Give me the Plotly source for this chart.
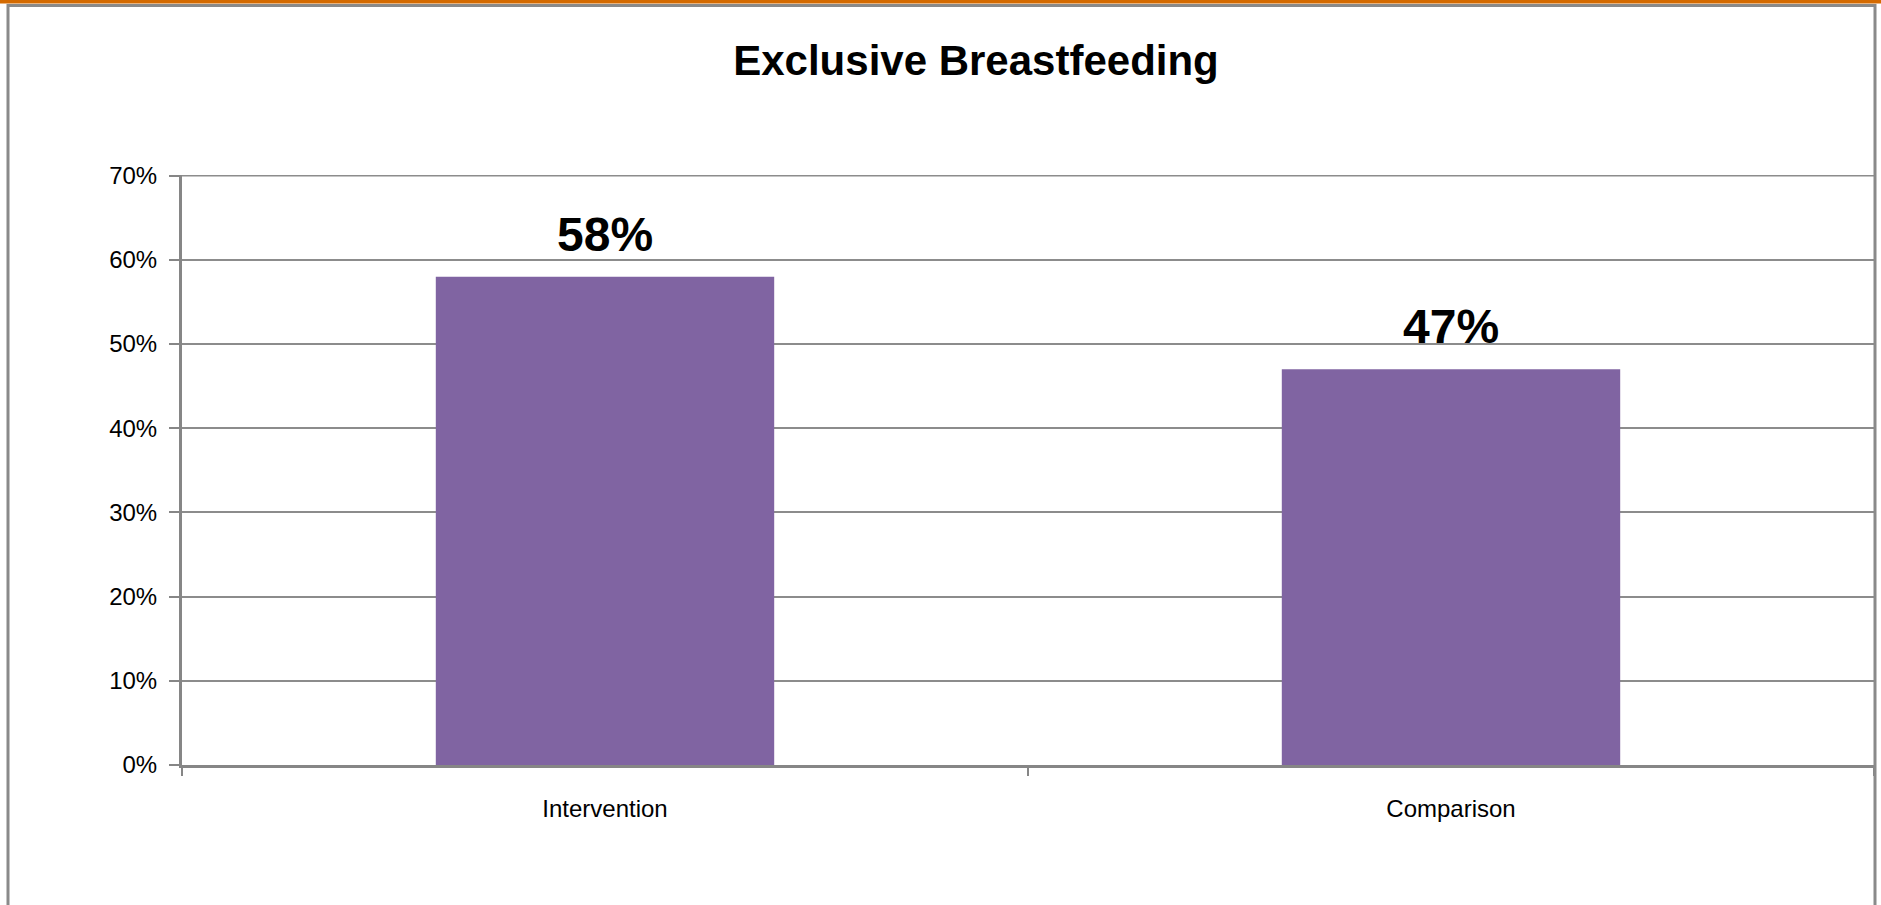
import plotly.graph_objects as go

categories = ["Intervention", "Comparison"]
values = [0.58, 0.47]
value_labels = ["58%", "47%"]
y_ticks = [0, 0.1, 0.2, 0.3, 0.4, 0.5, 0.6, 0.7]
title = "Exclusive Breastfeeding"

W, H = 1881, 905
L, R, T, B = 182, 7, 175, 140  # plot area margins in px
pw, ph = W - L - R, H - T - B


def px_x(x):
    return (x - L) / pw


def px_y(y):
    return (H - B - y) / ph


fig = go.Figure()
fig.add_trace(go.Bar(x=categories, y=values, marker=dict(color="#8064A2", line=dict(width=0)),
                     hoverinfo="skip"))

annotations = []
for c, v, t in zip(categories, values, value_labels):
    annotations.append(dict(x=c, y=v, text=t, showarrow=False, yanchor="bottom", yshift=14,
                            font=dict(family="Liberation Sans", size=48, color="black", weight="bold")))

fig.update_layout(
    width=W, height=H,
    margin=dict(l=L, r=R, t=T, b=B, autoexpand=False),
    paper_bgcolor="white", plot_bgcolor="white",
    showlegend=False,
    bargap=0.6,
    title=dict(text="<b>" + title + "</b>", x=976 / W, xanchor="center", y=1 - 60 / H, yanchor="middle",
               font=dict(family="Liberation Sans", size=42, color="black")),
    xaxis=dict(showline=True, linecolor="#868686", linewidth=3, ticks="outside", tickson="boundaries",
               ticklen=8, tickwidth=2, tickcolor="#868686", showgrid=False,
               tickfont=dict(family="Liberation Sans", size=24, color="black"),
               ticklabelstandoff=20),
    yaxis=dict(range=[0, 0.7008], tickvals=y_ticks, tickformat=".0%",
               showline=True, linecolor="#868686",
               linewidth=3, ticks="outside", ticklen=10, tickwidth=2, tickcolor="#868686",
               showgrid=True, gridcolor="#8c8c8c", gridwidth=1.5, zeroline=False,
               tickfont=dict(family="Liberation Sans", size=24, color="black"),
               ticklabelstandoff=7),
    annotations=annotations,
    shapes=[
        # top gridline (plotly drops it at the range edge)
        dict(type="line", xref="paper", yref="y", x0=0, x1=1, y0=y_ticks[-1], y1=y_ticks[-1],
             line=dict(color="#8c8c8c", width=1.5), layer="below"),
        # orange strip at top
        dict(type="rect", xref="paper", yref="paper", x0=px_x(-5), x1=px_x(W + 5), y0=px_y(3.5), y1=px_y(-2),
             fillcolor="#D46A00", line=dict(width=0), layer="above"),
        # chart area frame
        dict(type="rect", xref="paper", yref="paper", x0=px_x(8), x1=px_x(1875), y0=px_y(H + 20), y1=px_y(5.5),
             line=dict(color="#8a8a8a", width=3), fillcolor="rgba(0,0,0,0)", layer="above"),
    ],
)

fig.write_html("out.html", config=dict(displayModeBar=False),
               post_script="document.body.style.margin='0';document.body.style.overflow='hidden';")
